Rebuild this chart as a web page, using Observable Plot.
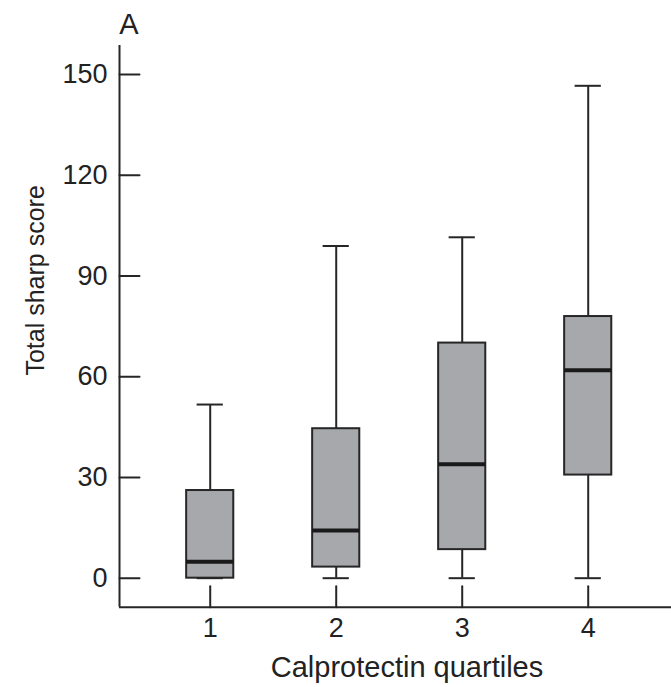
<!DOCTYPE html>
<html>
<head>
<meta charset="utf-8">
<script src="https://cdn.jsdelivr.net/npm/d3@7"></script>
<script src="https://cdn.jsdelivr.net/npm/@observablehq/plot@0.6"></script>
<style>
  html, body { margin: 0; padding: 0; background: #fff; }
  #chart svg { display: block; }
</style>
</head>
<body>
<div id="chart"></div>
<script>
// Data
const quartiles = [1, 2, 3, 4];
const whiskerLow = [0, 0, 0, 0];
const q1Values = [0, 3.3, 8.5, 30.7];
const medians = [4.9, 14.2, 33.9, 61.9];
const q3Values = [26.1, 44.5, 70.0, 77.9];
const whiskerHigh = [51.7, 98.9, 101.5, 146.6];

const yTicks = [0, 30, 60, 90, 120, 150];
const xTicks = [1, 2, 3, 4];
const xDomain = [0.28, 4.661];
const yDomain = [-8.64, 158.6];

const panelLabel = "A";
const xTitle = "Calprotectin quartiles";
const yTitle = "Total sharp score";

const boxes = quartiles.map((q, i) => ({
  q, lo: whiskerLow[i], q1: q1Values[i], med: medians[i], q3: q3Values[i], hi: whiskerHigh[i]
}));

const boxHalf = 0.187;
const capHalf = 0.104;
const ink = "#262626";
const fill = "#a7a8ab";

// straight-line shape for inward tick marks
const lineShape = { draw(context, l) { context.moveTo(0, 0); context.lineTo(0, -l); } };

const chart = Plot.plot({
  width: 671,
  height: 687,
  marginTop: 45,
  marginBottom: 80.3,
  marginLeft: 119,
  marginRight: 0,
  style: { fontFamily: "'Liberation Sans', Arial, sans-serif", color: ink, background: "#fff" },
  x: { domain: xDomain },
  y: { domain: yDomain },
  marks: [
    // axis lines
    Plot.ruleX([xDomain[0]], { stroke: ink, strokeWidth: 2 }),
    Plot.ruleY([yDomain[0]], { stroke: ink, strokeWidth: 2 }),
    // tick labels
    Plot.axisY({ ticks: yTicks, tickSize: 0, tickPadding: 12, fontSize: 27, fill: "#222", label: null, tickFormat: d => String(d) }),
    Plot.axisX({ ticks: xTicks, tickSize: 0, tickPadding: 11, fontSize: 27, fill: "#222", label: null, tickFormat: d => String(d) }),
    // inward ticks
    Plot.vector(yTicks, { x: () => xDomain[0], y: d => d, length: 20, rotate: 90, anchor: "start", shape: lineShape, stroke: ink, strokeWidth: 2 }),
    Plot.vector(xTicks, { x: d => d, y: () => yDomain[0], length: 21, rotate: 0, anchor: "start", shape: lineShape, stroke: ink, strokeWidth: 2 }),
    // whiskers
    Plot.ruleX(boxes, { x: "q", y1: "q3", y2: "hi", stroke: ink, strokeWidth: 2 }),
    Plot.ruleX(boxes, { x: "q", y1: "lo", y2: "q1", stroke: ink, strokeWidth: 2 }),
    // caps
    Plot.ruleY(boxes, { y: "hi", x1: d => d.q - capHalf, x2: d => d.q + capHalf, stroke: ink, strokeWidth: 2 }),
    Plot.ruleY(boxes, { y: "lo", x1: d => d.q - capHalf, x2: d => d.q + capHalf, stroke: ink, strokeWidth: 2 }),
    // boxes
    Plot.rect(boxes, { x1: d => d.q - boxHalf, x2: d => d.q + boxHalf, y1: "q1", y2: "q3", fill: fill, stroke: ink, strokeWidth: 2 }),
    // medians
    Plot.ruleY(boxes, { y: "med", x1: d => d.q - boxHalf, x2: d => d.q + boxHalf, stroke: "#1a1a1a", strokeWidth: 4 }),
    // titles
    Plot.text([xTitle], { frameAnchor: "bottom", textAnchor: "middle", lineAnchor: "middle", dx: 11.5, dy: 61, fontSize: 29, fill: "#222" }),
    Plot.text([yTitle], { frameAnchor: "left", textAnchor: "middle", lineAnchor: "middle", rotate: -90, dx: -84, dy: -46, fontSize: 25, fill: "#222" }),
    Plot.text([panelLabel], { frameAnchor: "top-left", textAnchor: "middle", lineAnchor: "middle", dx: 9.5, dy: -20.3, fontSize: 29, fill: "#222" })
  ]
});

document.getElementById("chart").appendChild(chart);
</script>
</body>
</html>
